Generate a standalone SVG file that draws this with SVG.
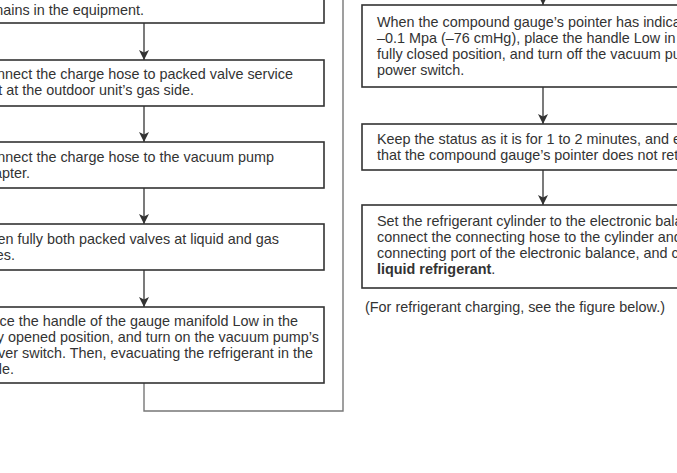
<svg xmlns="http://www.w3.org/2000/svg" width="677" height="473" viewBox="0 0 677 473">
<style>
.box{fill:#fff;stroke:#333;stroke-width:1.6}
.t{font-family:"Liberation Sans",Arial,sans-serif;font-size:14.4px;fill:#333}
.e{text-anchor:end}
.b{font-weight:bold}
.c{fill:none;stroke:#333;stroke-width:1.3}
.loop{fill:none;stroke:#777;stroke-width:1.4}
</style>
<defs>
<marker id="ah" markerUnits="userSpaceOnUse" markerWidth="10" markerHeight="12" viewBox="0 0 10 12" refX="10" refY="6" orient="auto">
<path d="M0,1 L10,6 L0,11 L2.5,6 z" fill="#333"/>
</marker>
</defs>
<rect width="677" height="473" fill="#fff"/>
<g id="connectors">
<path class="loop" d="M144,383 V411 H343 V-5"/>
<line class="c" x1="144" y1="23" x2="144" y2="60" marker-end="url(#ah)"/>
<line class="c" x1="144" y1="106" x2="144" y2="142" marker-end="url(#ah)"/>
<line class="c" x1="144" y1="188" x2="144" y2="224" marker-end="url(#ah)"/>
<line class="c" x1="144" y1="270" x2="144" y2="307" marker-end="url(#ah)"/>
<line class="c" x1="543" y1="-20" x2="543" y2="5" marker-end="url(#ah)"/>
<line class="c" x1="543" y1="87" x2="543" y2="124" marker-end="url(#ah)"/>
<line class="c" x1="543" y1="170" x2="543" y2="205" marker-end="url(#ah)"/>
</g>
<g id="node1">
<rect class="box" x="-40" y="-40" width="364" height="63"/>
<text class="t e" x="144" y="14.5">mains in the equipment.</text>
</g>
<g id="node2">
<rect class="box" x="-40" y="60" width="364" height="46"/>
<text class="t e" x="293" y="79">nnect the charge hose to packed valve service</text>
<text class="t e" x="194" y="95">t at the outdoor unit’s gas side.</text>
</g>
<g id="node3">
<rect class="box" x="-40" y="142" width="364" height="46"/>
<text class="t e" x="274" y="162">nnect the charge hose to the vacuum pump</text>
<text class="t e" x="30" y="178">apter.</text>
</g>
<g id="node4">
<rect class="box" x="-40" y="224" width="364" height="46"/>
<text class="t e" x="279" y="244">en fully both packed valves at liquid and gas</text>
<text class="t e" x="15" y="260">es.</text>
</g>
<g id="node5">
<rect class="box" x="-40" y="307" width="364" height="76"/>
<text class="t e" x="298" y="326">ce the handle of the gauge manifold Low in the</text>
<text class="t e" x="319" y="342">y opened position, and turn on the vacuum pump’s</text>
<text class="t e" x="313" y="358">ver switch. Then, evacuating the refrigerant in the</text>
<text class="t e" x="14" y="374">le.</text>
</g>
<g id="nodeA">
<rect class="box" x="362" y="5" width="360" height="82"/>
<text class="t" x="377" y="27">When the compound gauge’s pointer has indica</text>
<text class="t" x="377" y="43">–0.1 Mpa (–76 cmHg), place the handle Low in</text>
<text class="t" x="377" y="59">fully closed position, and turn off the vacuum pu</text>
<text class="t" x="377" y="75">power switch.</text>
</g>
<g id="nodeB">
<rect class="box" x="362" y="124" width="360" height="46"/>
<text class="t" x="377" y="144">Keep the status as it is for 1 to 2 minutes, and e</text>
<text class="t" x="377" y="160">that the compound gauge’s pointer does not ret</text>
</g>
<g id="nodeC">
<rect class="box" x="362" y="205" width="360" height="83"/>
<text class="t" x="377" y="226">Set the refrigerant cylinder to the electronic bala</text>
<text class="t" x="377" y="242">connect the connecting hose to the cylinder and</text>
<text class="t" x="377" y="258">connecting port of the electronic balance, and c</text>
<text class="t" x="377" y="274"><tspan class="b">liquid refrigerant</tspan>.</text>
</g>
<g id="caption">
<text class="t" x="365" y="312">(For refrigerant charging, see the figure below.)</text>
</g>
</svg>
